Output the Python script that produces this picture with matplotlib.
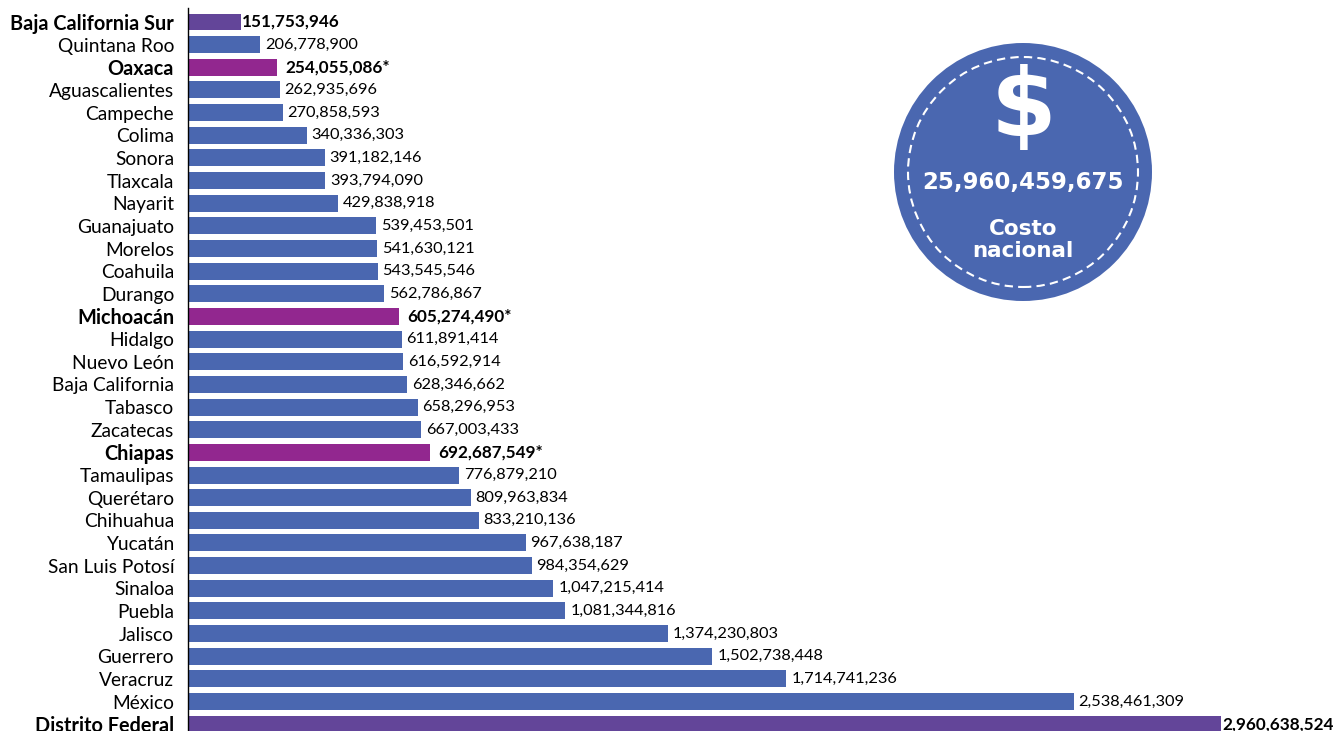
import numpy as np
import matplotlib
matplotlib.use("Agg")
import matplotlib.pyplot as plt
from matplotlib.patches import Ellipse

# --------------------- Data --------------------- #
states = ["Baja California Sur", "Quintana Roo", "Oaxaca", "Aguascalientes", "Campeche",
          "Colima", "Sonora", "Tlaxcala", "Nayarit", "Guanajuato", "Morelos", "Coahuila",
          "Durango", "Michoacán", "Hidalgo", "Nuevo León", "Baja California", "Tabasco",
          "Zacatecas", "Chiapas", "Tamaulipas", "Querétaro", "Chihuahua", "Yucatán",
          "San Luis Potosí", "Sinaloa", "Puebla", "Jalisco", "Guerrero", "Veracruz",
          "México", "Distrito Federal"]
costs = [151753946, 206778900, 254055086, 262935696, 270858593, 340336303, 391182146,
         393794090, 429838918, 539453501, 541630121, 543545546, 562786867, 605274490,
         611891414, 616592914, 628346662, 658296953, 667003433, 692687549, 776879210,
         809963834, 833210136, 967638187, 984354629, 1047215414, 1081344816, 1374230803,
         1502738448, 1714741236, 2538461309, 2960638524]
# group: 0 normal, 1 extremes, 2 marked with *
groups = [1, 0, 2, 0, 0, 0, 0, 0, 0, 0, 0, 0, 0, 2, 0, 0, 0, 0, 0, 2,
          0, 0, 0, 0, 0, 0, 0, 0, 0, 0, 0, 1]
total_label = "25,960,459,675"
total_caption = "Costo\nnacional"

colors = {0: "#4A67B0", 1: "#634599", 2: "#92278F"}

plt.rcParams["font.family"] = ["Lato", "DejaVu Sans"]

fig = plt.figure(figsize=(13.41, 7.31), dpi=100)
ax = fig.add_axes([188 / 1341, 0, 1 - 188 / 1341, 1])

y = np.arange(len(states))
bar_cols = [colors[g] for g in groups]
ax.barh(y, costs, height=0.75, color=bar_cols, zorder=2)

ax.set_xlim(0, 3.304e9)
ax.set_ylim(31.30, -0.971)

ax.set_yticks(y)
ax.set_yticklabels(states, fontsize=13.8)
for lab, g in zip(ax.get_yticklabels(), groups):
    if g > 0:
        lab.set_fontweight("bold")
        lab.set_fontsize(14.3)
ax.tick_params(axis="y", length=0, pad=10)
ax.set_xticks([])

for s in ("top", "right", "bottom"):
    ax.spines[s].set_visible(False)
ax.spines["left"].set_bounds(-0.62, 31.3)
ax.spines["left"].set_linewidth(1.0)

for yi, v, g in zip(y, costs, groups):
    txt = f"{v:,}"
    if g == 2:
        txt += "*"
        ax.annotate(txt, (v, yi), xytext=(6, 0), textcoords="offset points",
                    va="center", ha="left", fontsize=12.3, fontweight="bold")
    elif g == 1:
        ax.annotate(txt, (v, yi), xytext=(1, 0), textcoords="offset points",
                    va="center", ha="left", fontsize=12.3, fontweight="bold")
    else:
        ax.annotate(txt, (v, yi), xytext=(3.5, 0), textcoords="offset points",
                    va="center", ha="left", fontsize=11.8)

# --------------------- Circle badge --------------------- #
cx, cy, r = 1023 / 1341, 1 - 172 / 731, 129
fig.patches.append(Ellipse((cx, cy), 2 * r / 1341, 2 * r / 731, transform=fig.transFigure,
                           facecolor="#4A67B0", edgecolor="none", zorder=5))
fig.patches.append(Ellipse((cx, cy), 2 * 115 / 1341, 2 * 115 / 731, transform=fig.transFigure,
                           facecolor="none", edgecolor="white", linestyle=(0, (4, 2.5)),
                           linewidth=1.5, zorder=6))
fig.text(cx, 1 - 110 / 731, "$", color="white", fontsize=68, fontweight="heavy",
         ha="center", va="center", family=["DejaVu Sans"], zorder=7)
fig.text(cx, 1 - 183 / 731, total_label, color="white", fontsize=16.5, fontweight="bold",
         ha="center", va="center", family=["DejaVu Sans"], zorder=7)
fig.text(cx, 1 - 240 / 731, total_caption, color="white", fontsize=15.5, fontweight="bold",
         ha="center", va="center", family=["DejaVu Sans"], linespacing=1.15, zorder=7)

fig.savefig("out.png", dpi=100)
